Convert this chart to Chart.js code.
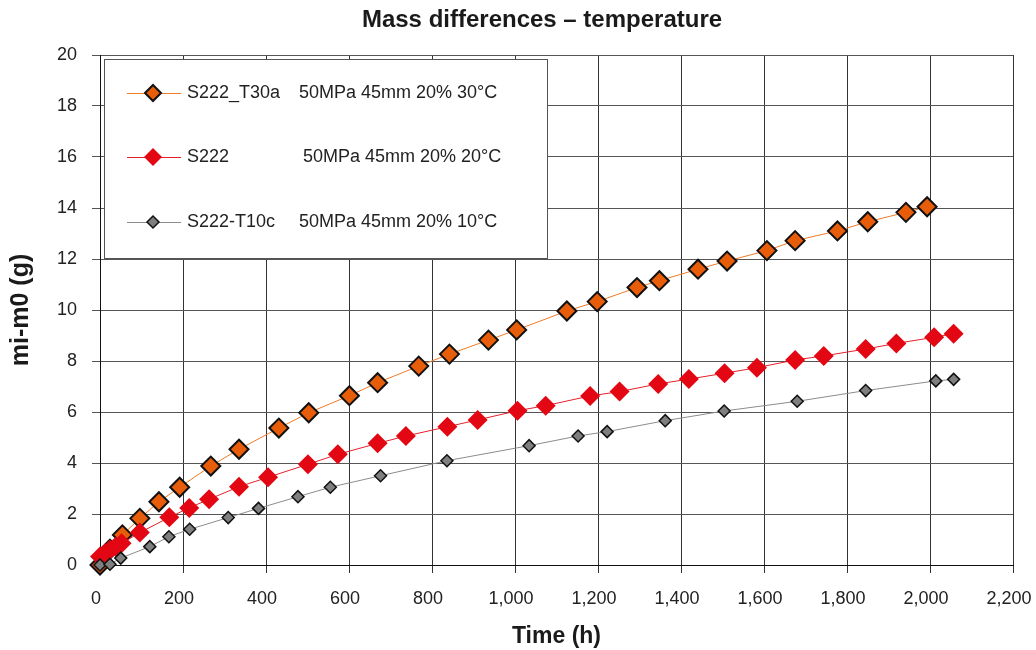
<!DOCTYPE html>
<html>
<head>
<meta charset="utf-8">
<title>Mass differences – temperature</title>
<script src="https://cdn.jsdelivr.net/npm/chart.js@4.4.1/dist/chart.umd.min.js"></script>
<style>
  html, body { margin: 0; padding: 0; background: #fff; }
  #wrap { width: 1036px; height: 650px; }
</style>
</head>
<body>
<div id="wrap"><canvas id="chart" width="1036" height="650"></canvas></div>
<script>
// values: time (h) and mass difference mi-m0 (g)
const t30Time = [0, 24, 54, 96, 142, 192, 267, 335, 431, 503, 601, 669, 768, 842, 936, 1004,
  1125, 1198, 1294, 1348, 1441, 1511, 1607, 1675, 1777, 1850, 1942, 1993];
const t30Mass = [0, 0.62, 1.18, 1.83, 2.48, 3.05, 3.88, 4.54, 5.37, 5.97, 6.64, 7.15, 7.8, 8.27, 8.82, 9.22,
  9.96, 10.33, 10.88, 11.15, 11.6, 11.92, 12.33, 12.72, 13.1, 13.46, 13.83, 14.05];

const t20Time = [0, 12, 24, 38, 52, 96, 167, 215, 263, 335, 405, 501, 573, 669, 737, 837, 910,
  1006, 1074, 1181, 1252, 1345, 1419, 1505, 1583, 1675, 1744, 1845, 1919, 2010, 2057];
const t20Mass = [0.33, 0.45, 0.6, 0.72, 0.85, 1.27, 1.87, 2.24, 2.58, 3.07, 3.44, 3.95, 4.34, 4.77, 5.06, 5.42, 5.69,
  6.05, 6.25, 6.63, 6.8, 7.1, 7.29, 7.52, 7.74, 8.04, 8.2, 8.47, 8.69, 8.93, 9.07];

const t10Time = [0, 24, 50, 120, 166, 216, 309, 382, 477, 555, 676, 836, 1034, 1152, 1222, 1362,
  1504, 1680, 1845, 2014, 2057];
const t10Mass = [0, 0.03, 0.27, 0.72, 1.11, 1.4, 1.86, 2.22, 2.68, 3.05, 3.5, 4.09, 4.68, 5.06, 5.23, 5.66,
  6.04, 6.42, 6.84, 7.22, 7.28];

const seriesNames = ['S222_T30a', 'S222', 'S222-T10c'];
const seriesNotes = ['50MPa 45mm 20% 30°C', '50MPa 45mm 20% 20°C', '50MPa 45mm 20% 10°C'];

const FONT = '"Liberation Sans", Arial, Helvetica, sans-serif';

function toPoints(xs, ys) {
  return xs.map((x, i) => ({ x: x, y: ys[i] }));
}

// title + boxed legend drawn by hand, the legend sits inside the plot top-left
const extrasPlugin = {
  id: 'extras',
  beforeDatasetsDraw(chart) {
    const ctx = chart.ctx;
    ctx.save();
    ctx.fillStyle = '#fff';
    ctx.fillRect(104.5, 59.5, 443, 199);
    ctx.strokeStyle = '#555';
    ctx.lineWidth = 1;
    ctx.strokeRect(104.5, 59.5, 443, 199);

    const rowY = [93, 157, 222];
    const noteX = [299, 303, 299];
    chart.data.datasets.forEach((ds) => {
      const idx = ds.legendIndex;
      const y = rowY[idx];
      ctx.strokeStyle = ds.borderColor;
      ctx.lineWidth = 1;
      ctx.beginPath();
      ctx.moveTo(127, y + 0.5);
      ctx.lineTo(181, y + 0.5);
      ctx.stroke();

      const r = ds.legendRadius;
      ctx.beginPath();
      ctx.moveTo(153 - r, y);
      ctx.lineTo(153, y - r);
      ctx.lineTo(153 + r, y);
      ctx.lineTo(153, y + r);
      ctx.closePath();
      ctx.fillStyle = ds.pointBackgroundColor;
      ctx.fill();
      if (ds.pointBorderWidth > 0) {
        ctx.strokeStyle = ds.pointBorderColor;
        ctx.lineWidth = ds.pointBorderWidth;
        ctx.stroke();
      }

      ctx.fillStyle = '#222';
      ctx.font = '18px ' + FONT;
      ctx.textBaseline = 'middle';
      ctx.textAlign = 'left';
      ctx.fillText(seriesNames[idx], 187, y);
      ctx.fillText(seriesNotes[idx], noteX[idx], y);
    });
    ctx.restore();
  },
  afterDraw(chart) {
    const ctx = chart.ctx;
    ctx.save();
    ctx.fillStyle = '#1a1a1a';
    ctx.font = 'bold 24px ' + FONT;
    ctx.textAlign = 'center';
    ctx.textBaseline = 'middle';
    ctx.fillText('Mass differences – temperature', 542, 20);
    ctx.restore();
  }
};

new Chart(document.getElementById('chart'), {
  type: 'line',
  data: {
    datasets: [
      {
        label: seriesNames[2],
        legendIndex: 2,
        legendRadius: 6,
        data: toPoints(t10Time, t10Mass),
        borderColor: '#8c8c8c',
        borderWidth: 1,
        pointStyle: 'rectRot',
        pointRadius: 6,
        pointHoverRadius: 6,
        pointBackgroundColor: '#7f7f7f',
        pointBorderColor: '#111',
        pointBorderWidth: 1.5,
        order: 1,
        clip: false
      },
      {
        label: seriesNames[1],
        legendIndex: 1,
        legendRadius: 9,
        data: toPoints(t20Time, t20Mass),
        borderColor: '#e5202a',
        borderWidth: 1,
        pointStyle: 'rectRot',
        pointRadius: 10,
        pointHoverRadius: 10,
        pointBackgroundColor: '#e30613',
        pointBorderColor: '#e30613',
        pointBorderWidth: 0,
        order: 2,
        clip: false
      },
      {
        label: seriesNames[0],
        legendIndex: 0,
        legendRadius: 8,
        data: toPoints(t30Time, t30Mass),
        borderColor: '#f07a26',
        borderWidth: 1,
        pointStyle: 'rectRot',
        pointRadius: 9.5,
        pointHoverRadius: 9.5,
        pointBackgroundColor: '#e85d0a',
        pointBorderColor: '#111',
        pointBorderWidth: 2,
        order: 3,
        clip: false
      }
    ]
  },
  options: {
    responsive: false,
    animation: false,
    events: [],
    layout: { padding: { left: 0, right: 23, top: 55, bottom: 0 } },
    plugins: {
      legend: { display: false },
      title: { display: false },
      tooltip: { enabled: false }
    },
    scales: {
      x: {
        type: 'linear',
        min: 0,
        max: 2200,
        afterFit(scale) {
          scale.height = 85;
          scale.paddingLeft = 0;
          scale.paddingRight = 0;
        },
        ticks: {
          stepSize: 200,
          padding: 15,
          labelOffset: -4,
          color: '#222',
          font: { family: FONT, size: 18 },
          maxRotation: 0
        },
        grid: { color: '#333', lineWidth: 1, tickLength: 8, drawTicks: true },
        border: { color: '#111', width: 1 },
        title: {
          display: true,
          text: 'Time (h)',
          color: '#1a1a1a',
          font: { family: FONT, size: 23, weight: 'bold' },
          padding: { top: 0, bottom: 0 }
        }
      },
      y: {
        type: 'linear',
        min: 0,
        max: 20,
        afterFit(scale) {
          scale.width = 100;
          scale.paddingTop = 0;
          scale.paddingBottom = 0;
        },
        ticks: {
          stepSize: 2,
          padding: 15,
          color: '#222',
          font: { family: FONT, size: 18 }
        },
        grid: { color: '#555', lineWidth: 1, tickLength: 8, drawTicks: true },
        border: { color: '#111', width: 1 },
        title: {
          display: true,
          text: 'mi-m0 (g)',
          color: '#1a1a1a',
          font: { family: FONT, size: 25, weight: 'bold' },
          padding: { top: 6, bottom: 0 }
        }
      }
    }
  },
  plugins: [extrasPlugin]
});
</script>
</body>
</html>
